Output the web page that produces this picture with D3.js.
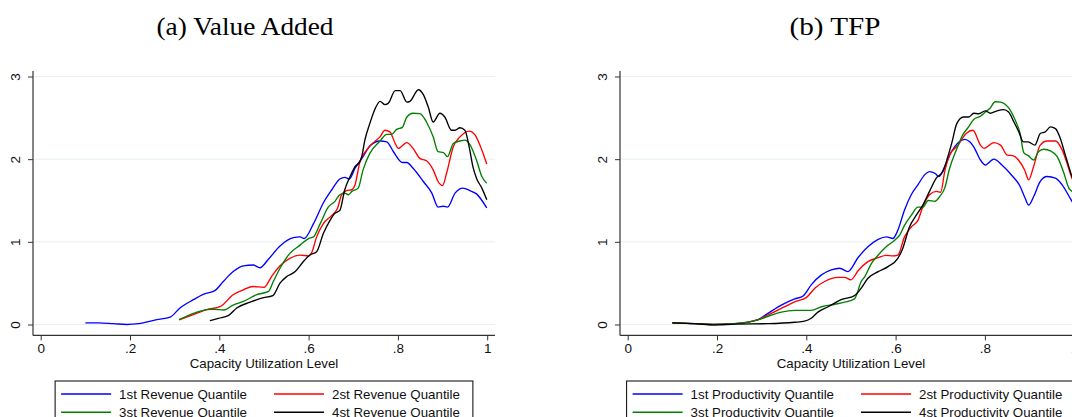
<!DOCTYPE html>
<html>
<head>
<meta charset="utf-8">
<script src="https://cdn.jsdelivr.net/npm/d3@7"></script>
<style>
  html, body { margin: 0; padding: 0; background: #fff; }
  svg { display: block; }
  text { font-family: "Liberation Sans", Arial, sans-serif; fill: #111; }
  .ptitle { font-family: "Liberation Serif", "Times New Roman", serif; fill: #000; }
</style>
</head>
<body>
<svg id="chart" width="1072" height="417"></svg>
<script>
// Tick labels shared by both panels
const xTickValues = [0, 0.2, 0.4, 0.6, 0.8, 1];
const xTickLabels = ["0", ".2", ".4", ".6", ".8", "1"];
const yTickValues = [0, 1, 2, 3];
const yTickLabels = ["0", "1", "2", "3"];

const panelTitles = ["(a) Value Added", "(b) TFP"];
const xAxisTitle = "Capacity Utilization Level";
const seriesColors = ["#0000ff", "#ff0000", "#008000", "#000000"];
const vaLegend = ["1st Revenue Quantile", "2st Revenue Quantile", "3st Revenue Quantile", "4st Revenue Quantile"];
const tfpLegend = ["1st Productivity Quantile", "2st Productivity Quantile", "3st Productivity Quantile", "4st Productivity Quantile"];

// Value added, by revenue quantile: [capacity utilization, density]
const vaQ1 = [[0.10,0.02],[0.13,0.02],[0.163,0.01],[0.193,0.0],[0.219,0.01],[0.26,0.06],[0.29,0.09],[0.312,0.20],[0.342,0.30],[0.364,0.365],[0.39,0.41],[0.409,0.52],[0.431,0.64],[0.454,0.71],[0.476,0.72],[0.491,0.687],[0.51,0.79],[0.536,0.95],[0.566,1.05],[0.581,1.06],[0.59,1.04],[0.611,1.22],[0.633,1.47],[0.652,1.63],[0.67,1.76],[0.681,1.78],[0.691,1.76],[0.704,1.89],[0.722,2.03],[0.737,2.16],[0.76,2.22],[0.775,2.21],[0.79,2.09],[0.81,1.96],[0.82,1.96],[0.834,1.89],[0.857,1.73],[0.876,1.59],[0.89,1.42],[0.902,1.43],[0.911,1.42],[0.928,1.59],[0.946,1.65],[0.961,1.62],[0.976,1.58],[0.999,1.41]];
const vaQ2 = [[0.31,0.055],[0.342,0.12],[0.372,0.18],[0.403,0.22],[0.431,0.36],[0.454,0.42],[0.476,0.46],[0.50,0.45],[0.517,0.58],[0.536,0.71],[0.558,0.80],[0.581,0.84],[0.60,0.83],[0.607,0.87],[0.618,1.06],[0.633,1.22],[0.652,1.32],[0.665,1.41],[0.674,1.57],[0.685,1.62],[0.697,1.63],[0.704,1.69],[0.715,1.97],[0.73,2.11],[0.745,2.2],[0.76,2.27],[0.771,2.35],[0.782,2.33],[0.794,2.19],[0.801,2.13],[0.82,2.2],[0.834,2.13],[0.849,2.01],[0.864,1.98],[0.879,1.87],[0.89,1.73],[0.90,1.68],[0.909,1.83],[0.924,2.15],[0.939,2.27],[0.96,2.34],[0.973,2.29],[0.988,2.11],[0.999,1.94]];
const vaQ3 = [[0.31,0.06],[0.342,0.135],[0.372,0.18],[0.387,0.185],[0.41,0.175],[0.431,0.235],[0.454,0.28],[0.484,0.36],[0.51,0.40],[0.521,0.52],[0.536,0.68],[0.558,0.86],[0.581,0.96],[0.60,1.04],[0.611,1.06],[0.626,1.22],[0.644,1.42],[0.659,1.49],[0.67,1.57],[0.681,1.59],[0.689,1.57],[0.697,1.61],[0.711,1.65],[0.722,1.87],[0.737,2.07],[0.76,2.22],[0.775,2.30],[0.786,2.30],[0.797,2.36],[0.81,2.385],[0.82,2.51],[0.834,2.555],[0.849,2.55],[0.864,2.45],[0.879,2.27],[0.89,2.09],[0.902,2.08],[0.911,2.03],[0.924,2.19],[0.939,2.22],[0.95,2.23],[0.961,2.18],[0.976,1.99],[0.988,1.79],[0.999,1.71]];
const vaQ4 = [[0.379,0.046],[0.398,0.075],[0.42,0.107],[0.439,0.20],[0.469,0.27],[0.495,0.32],[0.52,0.35],[0.536,0.50],[0.551,0.58],[0.57,0.64],[0.588,0.76],[0.603,0.84],[0.618,0.88],[0.633,1.10],[0.648,1.26],[0.659,1.345],[0.67,1.38],[0.681,1.63],[0.693,1.79],[0.704,1.91],[0.715,1.97],[0.719,2.03],[0.726,2.23],[0.737,2.43],[0.749,2.61],[0.76,2.70],[0.771,2.66],[0.779,2.68],[0.794,2.83],[0.805,2.83],[0.82,2.69],[0.827,2.70],[0.846,2.84],[0.857,2.78],[0.868,2.63],[0.879,2.45],[0.894,2.555],[0.905,2.51],[0.92,2.35],[0.928,2.35],[0.939,2.38],[0.95,2.35],[0.961,2.11],[0.968,1.91],[0.976,1.77],[0.988,1.65],[0.999,1.51]];

// TFP, by productivity quantile
const tfpQ1 = [[0.10,0.02],[0.15,0.01],[0.195,0.0],[0.24,0.01],[0.292,0.06],[0.314,0.135],[0.344,0.235],[0.374,0.31],[0.393,0.345],[0.411,0.48],[0.434,0.60],[0.456,0.66],[0.475,0.68],[0.493,0.64],[0.516,0.81],[0.538,0.94],[0.561,1.03],[0.579,1.06],[0.594,1.04],[0.605,1.14],[0.62,1.385],[0.635,1.57],[0.65,1.69],[0.665,1.81],[0.676,1.85],[0.688,1.83],[0.697,1.79],[0.71,1.91],[0.725,2.09],[0.74,2.2],[0.755,2.24],[0.766,2.21],[0.775,2.15],[0.79,1.99],[0.801,1.93],[0.82,2.0],[0.838,1.93],[0.861,1.80],[0.879,1.67],[0.89,1.53],[0.898,1.445],[0.909,1.545],[0.924,1.73],[0.939,1.79],[0.958,1.77],[0.973,1.69],[0.995,1.49],[1.0,1.45]];
const tfpQ2 = [[0.10,0.02],[0.15,0.01],[0.195,0.0],[0.24,0.01],[0.292,0.06],[0.314,0.115],[0.344,0.195],[0.374,0.275],[0.40,0.325],[0.419,0.44],[0.441,0.52],[0.471,0.57],[0.486,0.57],[0.50,0.54],[0.516,0.65],[0.538,0.76],[0.561,0.81],[0.579,0.837],[0.594,0.83],[0.605,0.84],[0.62,1.06],[0.635,1.18],[0.65,1.26],[0.661,1.425],[0.676,1.57],[0.691,1.61],[0.701,1.60],[0.71,1.85],[0.721,2.05],[0.74,2.17],[0.758,2.31],[0.773,2.35],[0.79,2.17],[0.798,2.13],[0.82,2.2],[0.835,2.17],[0.85,2.05],[0.864,2.04],[0.875,1.99],[0.889,1.87],[0.898,1.75],[0.909,1.91],[0.924,2.17],[0.939,2.22],[0.958,2.22],[0.973,2.11],[0.984,1.95],[0.995,1.77],[1.0,1.72]];
const tfpQ3 = [[0.10,0.02],[0.15,0.01],[0.195,0.0],[0.24,0.01],[0.292,0.055],[0.322,0.115],[0.344,0.15],[0.374,0.17],[0.411,0.17],[0.434,0.215],[0.464,0.245],[0.486,0.27],[0.508,0.31],[0.523,0.52],[0.531,0.58],[0.546,0.74],[0.561,0.84],[0.579,0.94],[0.598,1.02],[0.609,1.08],[0.62,1.20],[0.635,1.32],[0.65,1.42],[0.661,1.42],[0.673,1.50],[0.688,1.49],[0.699,1.55],[0.71,1.65],[0.721,1.89],[0.736,2.11],[0.751,2.30],[0.762,2.38],[0.775,2.48],[0.79,2.52],[0.801,2.57],[0.812,2.62],[0.823,2.695],[0.835,2.69],[0.846,2.66],[0.857,2.59],[0.868,2.47],[0.879,2.31],[0.887,2.08],[0.898,2.04],[0.909,1.99],[0.92,2.09],[0.932,2.12],[0.947,2.10],[0.962,2.03],[0.977,1.83],[0.988,1.65],[0.995,1.61],[1.0,1.59]];
const tfpQ4 = [[0.10,0.02],[0.15,0.01],[0.195,-0.005],[0.24,0.005],[0.314,0.01],[0.374,0.027],[0.396,0.04],[0.411,0.075],[0.426,0.15],[0.449,0.215],[0.478,0.30],[0.508,0.35],[0.523,0.44],[0.538,0.56],[0.561,0.64],[0.583,0.70],[0.605,0.80],[0.616,0.92],[0.631,1.18],[0.646,1.32],[0.661,1.445],[0.676,1.61],[0.691,1.77],[0.706,1.85],[0.717,2.03],[0.726,2.2],[0.737,2.43],[0.752,2.51],[0.764,2.51],[0.775,2.555],[0.786,2.55],[0.801,2.585],[0.812,2.555],[0.827,2.585],[0.842,2.60],[0.853,2.57],[0.865,2.45],[0.876,2.33],[0.886,2.21],[0.897,2.21],[0.912,2.17],[0.924,2.31],[0.935,2.33],[0.947,2.39],[0.958,2.37],[0.969,2.25],[0.98,2.05],[0.988,1.91],[0.995,1.79],[1.0,1.74]];

const panels = [
  { title: panelTitles[0], titleX: 245, titleLen: 177, series: [vaQ1, vaQ2, vaQ3, vaQ4], legend: vaLegend, dx: 0 },
  { title: panelTitles[1], titleX: 248, titleLen: 91, series: [tfpQ1, tfpQ2, tfpQ3, tfpQ4], legend: tfpLegend, dx: 587 }
];

// Layout of one panel (panel-local pixel coordinates)
const frame = { left: 33, right: 495, top: 71, bottom: 335.4 };
const x = d3.scaleLinear().domain([0, 1]).range([40.7, 487.2]);
const y = d3.scaleLinear().domain([0, 3]).range([324.5, 76.5]);
const plotCenter = (frame.left + frame.right) / 2;

const svg = d3.select("#chart");
svg.append("rect").attr("width", 1072).attr("height", 417).attr("fill", "#fff");

const line = d3.line()
  .x(d => x(d[0]))
  .y(d => y(d[1]))
  .curve(d3.curveMonotoneX);

panels.forEach(p => {
  const g = svg.append("g").attr("transform", `translate(${p.dx},0)`);

  // Title
  g.append("text").attr("class", "ptitle")
    .attr("x", p.titleX).attr("y", 35)
    .attr("text-anchor", "middle")
    .attr("font-size", 26)
    .attr("textLength", p.titleLen).attr("lengthAdjust", "spacingAndGlyphs")
    .text(p.title);

  // Horizontal gridlines
  g.append("g").selectAll("line").data(yTickValues).join("line")
    .attr("x1", frame.left).attr("x2", frame.right)
    .attr("y1", d => y(d)).attr("y2", d => y(d))
    .attr("stroke", "#e6eff1").attr("stroke-width", 1);

  // Density curves
  g.append("g").selectAll("path").data(p.series).join("path")
    .attr("d", line)
    .attr("fill", "none")
    .attr("stroke", (d, i) => seriesColors[i])
    .attr("stroke-width", 1.35)
    .attr("stroke-linejoin", "round");

  // X axis
  const xAxis = d3.axisBottom(x)
    .tickValues(xTickValues)
    .tickFormat((d, i) => xTickLabels[i])
    .tickSize(5).tickPadding(3.5);
  const gx = g.append("g").attr("transform", `translate(0,${frame.bottom})`).call(xAxis);
  gx.select(".domain").remove();
  gx.selectAll("line").attr("stroke", "#333");
  gx.selectAll("text").attr("font-size", 13.5).attr("font-family", "Liberation Sans, Arial, sans-serif").attr("fill", "#111");
  g.append("line")
    .attr("x1", frame.left).attr("x2", frame.right)
    .attr("y1", frame.bottom).attr("y2", frame.bottom)
    .attr("stroke", "#333").attr("stroke-width", 1.2);

  // Y axis with rotated labels
  const yAxis = d3.axisLeft(y)
    .tickValues(yTickValues)
    .tickFormat((d, i) => yTickLabels[i])
    .tickSize(5);
  const gy = g.append("g").attr("transform", `translate(${frame.left},0)`).call(yAxis);
  gy.select(".domain").remove();
  gy.selectAll("line").attr("stroke", "#333");
  gy.selectAll("text")
    .attr("x", null).attr("dy", "0.36em")
    .attr("transform", "translate(-17.5,0) rotate(-90)")
    .attr("text-anchor", "middle")
    .attr("font-size", 13.5).attr("font-family", "Liberation Sans, Arial, sans-serif").attr("fill", "#111");
  g.append("line")
    .attr("x1", frame.left).attr("x2", frame.left)
    .attr("y1", frame.top).attr("y2", frame.bottom)
    .attr("stroke", "#333").attr("stroke-width", 1.2);

  // Axis title
  g.append("text")
    .attr("x", plotCenter).attr("y", 368)
    .attr("text-anchor", "middle").attr("font-size", 13.3)
    .text(xAxisTitle);

  // Legend: two columns, two rows, boxed and centred under the plot
  const lg = g.append("g");
  const rowY = [394, 412.2];
  const padL = 6, sample = 50, gap = 8, colGap = 27, padR = 13;
  const probe = lg.append("text").attr("font-size", 13.3).attr("opacity", 0);
  const widths = p.legend.map(t => { probe.text(t); return probe.node().getComputedTextLength(); });
  probe.remove();
  const col1W = Math.max(widths[0], widths[2]);
  const col2W = Math.max(widths[1], widths[3]);
  const col2Off = padL + sample + gap + col1W + colGap;
  const boxW = col2Off + sample + gap + col2W + padR;
  const boxX = plotCenter - boxW / 2;
  lg.append("rect")
    .attr("x", boxX).attr("y", 381)
    .attr("width", boxW).attr("height", 60)
    .attr("fill", "#fff").attr("stroke", "#000").attr("stroke-width", 1);
  p.legend.forEach((label, i) => {
    const col = i % 2, row = Math.floor(i / 2);
    const lx = boxX + (col === 0 ? padL : col2Off);
    lg.append("line")
      .attr("x1", lx).attr("x2", lx + sample)
      .attr("y1", rowY[row]).attr("y2", rowY[row])
      .attr("stroke", seriesColors[i]).attr("stroke-width", 1.35);
    lg.append("text")
      .attr("x", lx + sample + gap).attr("y", rowY[row] + 4.7)
      .attr("font-size", 13.3)
      .text(label);
  });
});
</script>
</body>
</html>
